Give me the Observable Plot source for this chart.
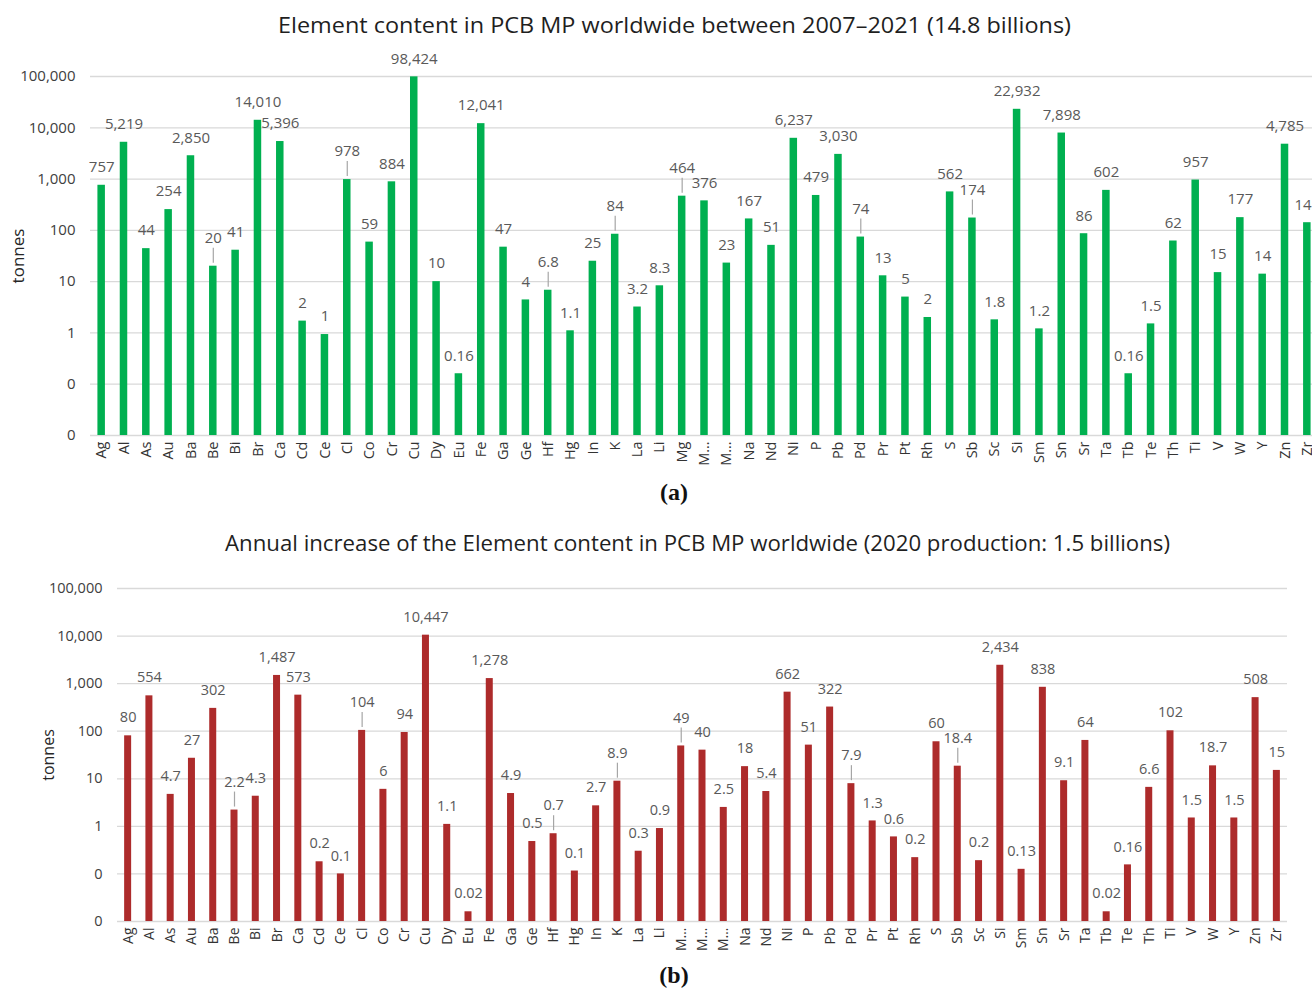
<!DOCTYPE html>
<html>
<head>
<meta charset="utf-8">
<script src="https://cdn.jsdelivr.net/npm/d3@7"></script>
<script src="https://cdn.jsdelivr.net/npm/@observablehq/plot@0.6"></script>
<style>
  html, body { margin: 0; padding: 0; background: #fff; }
  body { width: 1312px; height: 989px; overflow: hidden; position: relative; font-family: 'Open Sans', sans-serif; }
  .abs { position: absolute; left: 0; }
  .abs svg { max-width: none !important; }
  #overlay { position: absolute; left: 0; top: 0; pointer-events: none; }
</style>
</head>
<body>
<div id="pa" class="abs" style="top:0;width:1320px"></div>
<div id="pb" class="abs" style="top:500px;width:1312px"></div>
<svg id="overlay" width="1312" height="989"></svg>
<script>
// ---------- data ----------
const elements = ["Ag","Al","As","Au","Ba","Be","Bi","Br","Ca","Cd","Ce","Cl","Co","Cr","Cu","Dy","Eu","Fe","Ga","Ge","Hf","Hg","In","K","La","Li","Mg","Mn","Mo","Na","Nd","Ni","P","Pb","Pd","Pr","Pt","Rh","S","Sb","Sc","Si","Sm","Sn","Sr","Ta","Tb","Te","Th","Ti","V","W","Y","Zn","Zr"];

const tickLabelsA = ["Ag","Al","As","Au","Ba","Be","Bi","Br","Ca","Cd","Ce","Cl","Co","Cr","Cu","Dy","Eu","Fe","Ga","Ge","Hf","Hg","In","K","La","Li","Mg","M…","M…","Na","Nd","Ni","P","Pb","Pd","Pr","Pt","Rh","S","Sb","Sc","Si","Sm","Sn","Sr","Ta","Tb","Te","Th","Ti","V","W","Y","Zn","Zr"];
const tickLabelsB = ["Ag","Al","As","Au","Ba","Be","Bi","Br","Ca","Cd","Ce","Cl","Co","Cr","Cu","Dy","Eu","Fe","Ga","Ge","Hf","Hg","In","K","La","Li","M…","M…","M…","Na","Nd","Ni","P","Pb","Pd","Pr","Pt","Rh","S","Sb","Sc","Si","Sm","Sn","Sr","Ta","Tb","Te","Th","Ti","V","W","Y","Zn","Zr"];

// (a) element content 2007–2021, tonnes
const valuesA = [757,5219,44,254,2850,20,41,14010,5396,1.7,0.93,978,59,884,98424,10,0.16,12041,47,4.4,6.8,1.1,25,84,3.2,8.3,464,376,23,167,51,6237,479,3030,74,13,5,2,562,174,1.8,22932,1.2,7898,86,602,0.16,1.5,62,957,15,177,14,4785,141];
const labelsA = ["757","5,219","44","254","2,850","20","41","14,010","5,396","2","1","978","59","884","98,424","10","0.16","12,041","47","4","6.8","1.1","25","84","3.2","8.3","464","376","23","167","51","6,237","479","3,030","74","13","5","2","562","174","1.8","22,932","1.2","7,898","86","602","0.16","1.5","62","957","15","177","14","4,785","141"];

// (b) annual increase (2020), tonnes
const valuesB = [80,554,4.7,27,302,2.2,4.3,1487,573,0.18,0.1,104,6,94,10447,1.1,0.016,1278,4.9,0.48,0.7,0.115,2.7,8.9,0.3,0.9,49,40,2.5,18,5.4,662,51,322,7.9,1.3,0.6,0.22,60,18.4,0.19,2434,0.125,838,9.1,64,0.016,0.155,6.6,102,1.5,18.7,1.5,508,15];
const labelsB = ["80","554","4.7","27","302","2.2","4.3","1,487","573","0.2","0.1","104","6","94","10,447","1.1","0.02","1,278","4.9","0.5","0.7","0.1","2.7","8.9","0.3","0.9","49","40","2.5","18","5.4","662","51","322","7.9","1.3","0.6","0.2","60","18.4","0.2","2,434","0.13","838","9.1","64","0.02","0.16","6.6","102","1.5","18.7","1.5","508","15"];

// labels drawn with a leader line
const leaders = ["Be","Cl","Hf","K","Mg","Pd","Sb"];

const yTicks = [0.01, 0.1, 1, 10, 100, 1000, 10000, 100000];

const titleA = "Element content in PCB MP worldwide between 2007–2021 (14.8 billions)";
const titleB = "Annual increase of the Element content in PCB MP worldwide (2020 production: 1.5 billions)";

// ---------- drawing ----------
const fmtY = d => d < 1 ? "0" : d3.format(",")(d);

function panel({values, labels, ticks, color, width, height, mL, mR, mT, mB, fs, vfs, barW}) {
  const data = elements.map((e, i) => ({e, v: values[i], t: labels[i], lead: leaders.includes(e)}));
  const tickFmt = new Map(elements.map((e, i) => [e, ticks[i]]));
  const pxDec = (height - mT - mB) / 7;
  const k = 10 ** (15 / pxDec);
  const step = (width - mL - mR) / elements.length;
  const inset = (step - barW) / 2;
  return Plot.plot({
    width, height,
    marginLeft: mL, marginRight: mR, marginTop: mT, marginBottom: mB,
    style: {fontFamily: "'Open Sans', sans-serif", background: "transparent", overflow: "visible", maxWidth: "none"},
    x: {domain: elements, padding: 0, round: false, label: null},
    y: {type: "log", domain: [0.01, 100000], label: null},
    marks: [
      Plot.gridY({ticks: yTicks, stroke: "#d9d9d9", strokeOpacity: 1, strokeWidth: 1.3}),
      Plot.axisY({ticks: yTicks, tickSize: 0, tickPadding: 15, tickFormat: fmtY, fontSize: fs, color: "#404040", label: null}),
      Plot.axisX({tickRotate: -90, tickSize: 0, tickPadding: 6, tickFormat: d => tickFmt.get(d), fontSize: fs - 0.5, color: "#333333", label: null}),
      Plot.barY(data, {x: "e", y1: 0.01, y2: "v", fill: color, insetLeft: inset, insetRight: inset}),
      Plot.ruleX(data.filter(d => d.lead), {x: "e", y1: "v", y2: d => d.v * k, dy: -3, stroke: "#a6a6a6", strokeWidth: 1.2}),
      Plot.text(data.filter(d => !d.lead), {x: "e", y: "v", text: "t", dy: -18, fill: "#595959", fontSize: vfs}),
      Plot.text(data.filter(d => d.lead), {x: "e", y: "v", text: "t", dy: -28, fill: "#595959", fontSize: vfs})
    ]
  });
}

document.getElementById("pa").append(panel({
  values: valuesA, labels: labelsA, ticks: tickLabelsA, color: "#00b050",
  width: 1320, height: 480, mL: 90, mR: 2, mT: 76, mB: 45, fs: 15, vfs: 15, barW: 7.5
}));
document.getElementById("pb").append(panel({
  values: valuesB, labels: labelsB, ticks: tickLabelsB, color: "#ad2b2b",
  width: 1312, height: 480, mL: 117, mR: 25, mT: 88, mB: 59, fs: 14.5, vfs: 14.5, barW: 7
}));

// ---------- titles & annotations ----------
const ov = d3.select("#overlay");
function txt(s, x, y, opts = {}) {
  const t = ov.append("text").attr("x", x).attr("y", y).attr("text-anchor", "middle")
    .attr("dominant-baseline", "central").text(s)
    .style("font-family", opts.family || "'Open Sans', sans-serif")
    .style("font-size", (opts.size || 21) + "px")
    .style("font-weight", opts.weight || "normal")
    .style("fill", opts.fill || "#1f1f1f");
  if (opts.len) t.attr("textLength", opts.len).attr("lengthAdjust", "spacingAndGlyphs");
  if (opts.rotate) t.attr("transform", `rotate(${opts.rotate},${x},${y})`);
  return t;
}
txt(titleA, 674.5, 25, {size: 21, len: 793});
txt(titleB, 697.5, 543, {size: 21, len: 945});
txt("tonnes", 17, 256, {size: 17, rotate: -90, fill: "#262626"});
txt("tonnes", 48, 755, {size: 16, rotate: -90, fill: "#262626"});
txt("(a)", 674, 492, {size: 24, weight: "bold", family: "'Liberation Serif', 'DejaVu Serif', serif", fill: "#111"});
txt("(b)", 674, 975, {size: 24, weight: "bold", family: "'Liberation Serif', 'DejaVu Serif', serif", fill: "#111"});
</script>
</body>
</html>
